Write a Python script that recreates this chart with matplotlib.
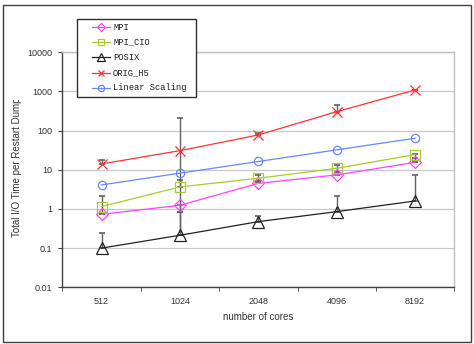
import matplotlib
matplotlib.use("Agg")
import matplotlib.pyplot as plt
import numpy as np
from matplotlib.lines import Line2D
from matplotlib.patches import Rectangle
from matplotlib.transforms import Bbox, TransformedBbox

cores = ["512", "1024", "2048", "4096", "8192"]
series_names = ["MPI", "MPI_CIO", "POSIX", "ORIG_H5", "Linear Scaling"]

mpi = [0.73, 1.24, 4.5, 7.4, 15.5]
mpi_cio = [1.15, 3.65, 6.1, 10.9, 24.5]
posix = [0.10, 0.213, 0.475, 0.855, 1.6]
orig_h5 = [14.1, 30.8, 77.5, 305, 1092]
linear = [4.1, 8.2, 16.3, 32.3, 64.0]

# error bar ends (low, high)
mpi_lo = [0.73, 0.82, 4.5, 7.4, 15.5]
mpi_hi = [0.73, 1.24, 5.2, 8.6, 20.0]
mpi_cio_lo = [0.75, 3.65, 5.0, 8.8, 15.5]
mpi_cio_hi = [2.2, 5.5, 7.4, 13.0, 26.0]
posix_lo = [0.10, 0.213, 0.475, 0.855, 1.6]
posix_hi = [0.24, 0.82, 0.68, 2.2, 7.2]
orig_lo = [14.1, 0.213, 77.5, 305, 1092]
orig_hi = [17.5, 215, 87, 461, 1092]

W, H = 474, 344
fig = plt.figure(figsize=(W / 100, H / 100), dpi=100)
fig.patch.set_facecolor("white")

def fx(px):
    return px / W

def fy(py):
    return 1 - py / H

ax = fig.add_axes([fx(62.3), fy(287.3), (454.3 - 62.3) / W, (287.3 - 52.3) / H])
ax.set_yscale("log")
ax.set_ylim(0.01, 10000)
ax.set_xlim(-0.5, 4.5)

x = np.arange(len(cores))
styles = [
    (mpi, mpi_lo, mpi_hi, "#FF44FF", "D", 6.0),
    (mpi_cio, mpi_cio_lo, mpi_cio_hi, "#A8CC30", "s", 7.5),
    (posix, posix_lo, posix_hi, "#222222", "^", 8.5),
    (orig_h5, orig_lo, orig_hi, "#FF3333", "x", 7.0),
    (linear, None, None, "#6688FF", "o", 6.0),
]

for vals, lo, hi, col, mk, ms in styles:
    v = np.array(vals)
    if lo is not None:
        err = [v - np.array(lo), np.array(hi) - v]
        ax.errorbar(x, v, yerr=err, fmt="none", ecolor="#606060", elinewidth=1.0,
                    capsize=2.0, capthick=1.2, zorder=2)

for (vals, lo, hi, col, mk, ms), name in zip(styles, series_names):
    ax.plot(x, vals, color=col, lw=0.9, marker=mk, markersize=ms, mfc="none",
            mec=col, mew=0.9, zorder=3, label=name)

ax.set_yticks([0.01, 0.1, 1, 10, 100, 1000, 10000])
ax.set_yticklabels(["0.01", "0.1", "1", "10", "100", "1000", "10000"])
ax.yaxis.set_minor_locator(matplotlib.ticker.NullLocator())
ax.set_xticks(x)
ax.set_xticklabels(cores)
ax.set_xticks(np.arange(-0.5, 5.0, 1.0), minor=True)
ax.tick_params(axis="x", which="major", length=0, pad=7, labelsize=6.5, labelcolor="#333333")
ax.tick_params(axis="x", which="minor", length=3, direction="out", color="#404040")
ax.tick_params(axis="y", which="major", length=3, direction="out", pad=4, labelsize=6.5,
               labelcolor="#333333", color="#404040")
for lab in ax.get_xticklabels() + ax.get_yticklabels():
    lab.set_family("Liberation Sans")

ax.grid(True, axis="y", which="major", color="#C8C8C8", lw=0.9)
ax.set_axisbelow(True)
for s in ["left", "bottom"]:
    ax.spines[s].set_color("#404040")
    ax.spines[s].set_linewidth(1.0)
for s in ["top", "right"]:
    ax.spines[s].set_color("#C0C0C0")
    ax.spines[s].set_linewidth(1.0)

ax.set_xlabel("number of cores", fontsize=7, family="Liberation Sans", color="#333333", labelpad=4)

yl = fig.text(fx(17), fy(237), "Total I/O Time per Restart Dump", rotation=90,
              ha="center", va="bottom", fontsize=7, family="Liberation Sans", color="#333333")
yl.set_clip_box(TransformedBbox(Bbox([[0, 0], [1, fy(100)]]), fig.transFigure))
yl.set_clip_on(True)

# outer frame
fig.add_artist(Rectangle((fx(3), fy(342)), fx(468), (342 - 5) / H, transform=fig.transFigure,
                         fill=False, edgecolor="#404040", lw=1.0, zorder=0))

# legend box
fig.add_artist(Rectangle((fx(76.5), fy(97)), fx(196 - 76.5), (97 - 18.5) / H,
                         transform=fig.transFigure, facecolor="white", edgecolor="#303030",
                         lw=1.0, zorder=10))
rows = [27, 42, 57.3, 72.7, 88]
leg_ms = [4.5, 5.0, 6.0, 5.0, 4.5]
for (vals, lo, hi, col, mk, ms), name, ry, lms in zip(styles, series_names, rows, leg_ms):
    fig.add_artist(Line2D([fx(92), fx(110)], [fy(ry), fy(ry)], transform=fig.transFigure,
                          color=col, lw=0.9, zorder=11))
    fig.add_artist(Line2D([fx(101)], [fy(ry)], transform=fig.transFigure, color=col,
                          marker=mk, markersize=lms, mfc="none", mec=col, mew=0.9, zorder=12))
    fig.text(fx(113), fy(ry), name, ha="left", va="center", fontsize=6.3,
             family="Liberation Mono", color="#202020", zorder=12)

fig.savefig("out.png", dpi=100)
